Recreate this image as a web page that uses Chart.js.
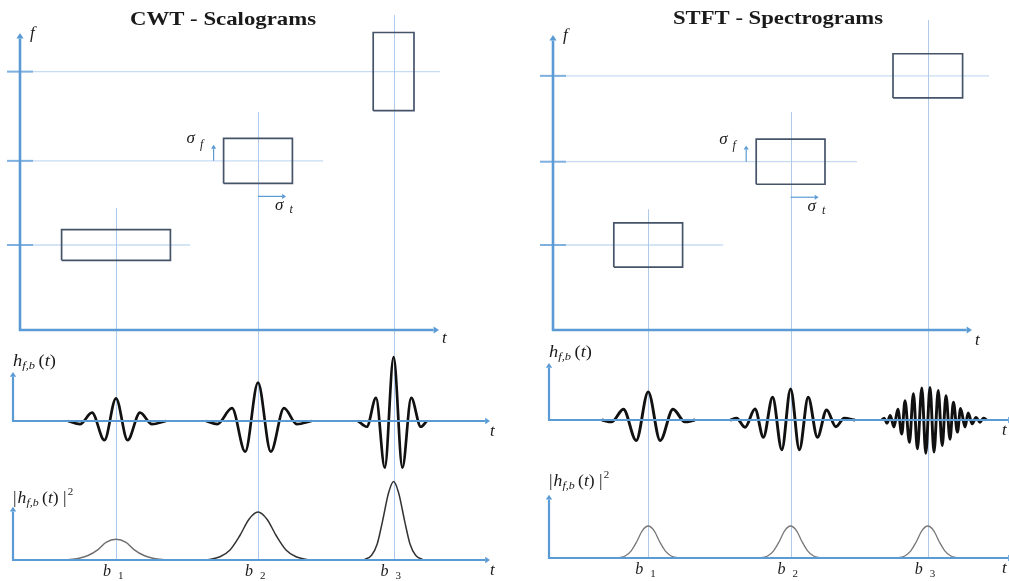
<!DOCTYPE html>
<html>
<head>
<meta charset="utf-8">
<title>CWT vs STFT</title>
<script src="https://cdn.jsdelivr.net/npm/chart.js@4/dist/chart.umd.min.js"></script>
<style>
  html, body { margin: 0; padding: 0; background: #fff; }
  #wrap { position: relative; width: 1009px; height: 581px; overflow: hidden; }
  canvas { position: absolute; top: 0; }
  #cwt { left: 0; }
  #stft { left: 505px; }
</style>
</head>
<body>
<div id="wrap">
  <canvas id="cwt" width="505" height="581"></canvas>
  <canvas id="stft" width="504" height="581"></canvas>
</div>
<script>
// ---- CWT panel (left) : time-frequency atoms ----
const cwtCentres = [2.4, 5.95, 9.34];      // b1, b2, b3 (t units)
const cwtLevels  = [1.0, 1.99, 3.04];      // f of each atom
const cwtSigmaT  = [1.36, 0.86, 0.51];     // half width of box
const cwtSigmaF  = [0.18, 0.265, 0.46];    // half height of box

// wavelets h_{f,b}(t): [t, amplitude] at the turning points
const cwtWave1 = [[1.2, 0], [1.5, -0.05], [1.8, 0.13], [2.11, -0.30], [2.4, 0.355], [2.69, -0.30], [3.0, 0.13], [3.3, -0.05], [3.65, 0]];
const cwtWave2 = [[4.65, 0], [4.93, -0.05], [5.3, 0.2], [5.63, -0.48], [5.95, 0.6], [6.27, -0.48], [6.6, 0.2], [6.92, -0.05], [7.29, 0]];
const cwtWave3 = [[8.45, 0], [8.67, -0.09], [8.9, 0.36], [9.12, -0.73], [9.34, 1.0], [9.56, -0.73], [9.78, 0.36], [10.02, -0.09], [10.17, 0]];

// |h_{f,b}(t)|^2
const cwtBump1 = [[1.15, 0], [1.45, 0.02], [1.7, 0.056], [1.95, 0.13], [2.15, 0.22], [2.4, 0.26], [2.65, 0.22], [2.85, 0.13], [3.1, 0.056], [3.35, 0.02], [3.65, 0]];
const cwtBump2 = [[4.65, 0], [5.0, 0.04], [5.25, 0.125], [5.49, 0.3], [5.725, 0.51], [5.95, 0.6], [6.175, 0.51], [6.41, 0.3], [6.65, 0.125], [6.9, 0.04], [7.25, 0]];
const cwtBump3 = [[8.59, 0], [8.79, 0.06], [8.93, 0.2], [9.065, 0.49], [9.215, 0.84], [9.34, 0.98], [9.465, 0.84], [9.615, 0.49], [9.75, 0.2], [9.89, 0.06], [10.09, 0]];

// ---- STFT panel (right) ----
const stftCentres = [2.38, 5.94, 9.37];
const stftLevels  = [1.0, 1.98, 2.99];
const stftSigmaT  = [0.86, 0.86, 0.87];
const stftSigmaF  = [0.26, 0.265, 0.26];

const stftWave1 = [[1.22, 0], [1.47, -0.03], [1.76, 0.167], [2.08, -0.32], [2.38, 0.44], [2.68, -0.32], [3.0, 0.167], [3.3, -0.03], [3.55, 0]];
const stftWave2 = [[4.43, 0], [4.59, 0.027], [4.8, -0.114], [5.05, 0.172], [5.26, -0.27], [5.49, 0.355], [5.72, -0.464], [5.94, 0.484],
                   [6.16, -0.464], [6.38, 0.355], [6.61, -0.27], [6.84, 0.156], [7.07, -0.105], [7.28, 0.027], [7.55, 0]];
const stftWave3 = [[8.22, 0], [8.28, 0.03], [8.35, -0.05], [8.43, 0.07], [8.525, -0.11], [8.62, 0.17], [8.72, -0.22], [8.8, 0.3],
                   [8.91, -0.35], [9.01, 0.41], [9.11, -0.45], [9.22, 0.5], [9.32, -0.52], [9.425, 0.51], [9.525, -0.5], [9.63, 0.46],
                   [9.73, -0.4], [9.825, 0.38], [9.925, -0.3], [10.01, 0.28], [10.11, -0.19], [10.19, 0.18], [10.3, -0.11], [10.38, 0.11],
                   [10.48, -0.06], [10.575, 0.04], [10.675, -0.035], [10.76, 0.03], [10.84, 0]];

const stftBump1 = [[1.63, 0], [1.805, 0.025], [1.955, 0.09], [2.09, 0.2], [2.23, 0.34], [2.38, 0.4], [2.53, 0.34], [2.67, 0.2], [2.805, 0.09], [2.955, 0.025], [3.13, 0]];
const stftBump2 = [[5.19, 0], [5.365, 0.025], [5.515, 0.09], [5.65, 0.2], [5.79, 0.34], [5.94, 0.4], [6.09, 0.34], [6.23, 0.2], [6.365, 0.09], [6.515, 0.025], [6.69, 0]];
const stftBump3 = [[8.62, 0], [8.795, 0.025], [8.945, 0.09], [9.08, 0.2], [9.22, 0.34], [9.37, 0.4], [9.52, 0.34], [9.66, 0.2], [9.795, 0.09], [9.945, 0.025], [10.12, 0]];

const atomSubscripts = ['1', '2', '3'];

// pixels per unit on each scale
const PX_T = 40, PX_F = 85, PX_W = 64, PX_G = 80, H = 581;

const axisBlue = '#5b9bd5';
const tickBlue = '#7fb0e0';
const guideBlue = '#c6dcf3';
const lineBlue = '#aecbeb';
const boxStroke = '#46546a';
const ink = '#1a1a1a';
const SERIF = '"Liberation Serif", "DejaVu Serif", serif';

const cwtPanel = {
  title: 'CWT - Scalograms', titleX: 223, titleY: 25, titleWidth: 186,
  centres: cwtCentres, levels: cwtLevels, sigmaT: cwtSigmaT, sigmaF: cwtSigmaF,
  waves: [cwtWave1, cwtWave2, cwtWave3], bumps: [cwtBump1, cwtBump2, cwtBump3],
  guideEnds: [4.25, 7.575, 10.5], guideTops: [1.435, 2.565, 3.706],
  width: 505, originPx: 20, tf0: 330, w0: 421, g0: 560,
  fAxisTop: 3.494, tAxisEnd: 10.475, subAxisX: -0.175, subAxisEnd: 11.75, wTop: 0.766, gTop: 0.666,
  waveWidth: 2.7, bumpColors: ['#707070', '#333333', '#333333'], bumpWidth: 1.5,
  hDy: -6, h2Dy: -4, tTfDy: 13
};

const stftPanel = {
  title: 'STFT - Spectrograms', titleX: 273, titleY: 23.5, titleWidth: 210,
  centres: stftCentres, levels: stftLevels, sigmaT: stftSigmaT, sigmaF: stftSigmaF,
  waves: [stftWave1, stftWave2, stftWave3], bumps: [stftBump1, stftBump2, stftBump3],
  guideEnds: [4.25, 7.6, 10.9], guideTops: [1.42, 2.565, 3.647],
  width: 504, originPx: 48, tf0: 330, w0: 420, g0: 558,
  fAxisTop: 3.47, tAxisEnd: 10.475, subAxisX: -0.1, subAxisEnd: 11.5, wTop: 0.89, gTop: 0.79,
  waveWidth: 2.9, bumpColors: ['#777777', '#777777', '#777777'], bumpWidth: 1.3,
  hDy: -6, h2Dy: -9, tTfDy: 15
};

function line(ctx, x0, y0, x1, y1, color, width) {
  ctx.strokeStyle = color;
  ctx.lineWidth = width;
  ctx.beginPath();
  ctx.moveTo(x0, y0);
  ctx.lineTo(x1, y1);
  ctx.stroke();
}

function arrow(ctx, x0, y0, x1, y1, color, width, head) {
  const ang = Math.atan2(y1 - y0, x1 - x0);
  const len = head * 1.5;
  const bx = x1 - Math.cos(ang) * len, by = y1 - Math.sin(ang) * len;
  line(ctx, x0, y0, bx, by, color, width);
  ctx.fillStyle = color;
  ctx.beginPath();
  ctx.moveTo(x1, y1);
  ctx.lineTo(bx - Math.sin(ang) * head, by + Math.cos(ang) * head);
  ctx.lineTo(bx + Math.sin(ang) * head, by - Math.cos(ang) * head);
  ctx.closePath();
  ctx.fill();
}

// draws text made of runs (italic, subscripts...) starting at x, y baseline
function drawRuns(ctx, runs, x, y, scaleX = 1) {
  ctx.save();
  ctx.translate(x, y);
  ctx.scale(scaleX, 1);
  ctx.fillStyle = ink;
  ctx.textBaseline = 'alphabetic';
  ctx.textAlign = 'left';
  let cx = 0;
  for (const r of runs) {
    ctx.font = `${r.italic ? 'italic ' : ''}${r.size}px ${SERIF}`;
    ctx.fillText(r.s, cx, r.dy || 0);
    cx += ctx.measureText(r.s).width + (r.gap || 0);
  }
  ctx.restore();
}

function hRuns(size) {
  return [
    { s: 'h', italic: true, size },
    { s: 'f,b', italic: true, size: size * 0.68, dy: 3, gap: 3 },
    { s: '(', size },
    { s: 't', italic: true, size },
    { s: ')', size }
  ];
}

function makeDiagramPlugin(p) {
  return {
    id: 'diagram',
    beforeDatasetsDraw(chart) {
      const { ctx, scales: { x, f, g } } = chart;
      ctx.save();
      // guide lines at each frequency level, with short ticks on the f axis
      p.levels.forEach((lv, i) => {
        const y = f.getPixelForValue(lv);
        line(ctx, x.getPixelForValue(-0.325), y, x.getPixelForValue(p.guideEnds[i]), y, guideBlue, 1.3);
        line(ctx, x.getPixelForValue(-0.325), y, x.getPixelForValue(0.325), y, tickBlue, 2);
      });
      // vertical lines through b1, b2, b3
      p.centres.forEach((b, i) => {
        const xx = Math.round(x.getPixelForValue(b)) + 0.5;
        line(ctx, xx, f.getPixelForValue(p.guideTops[i]), xx, g.getPixelForValue(0), lineBlue, 1);
      });
      ctx.restore();
    },
    afterDatasetsDraw(chart) {
      const { ctx, scales: { x, f, w, g } } = chart;
      ctx.save();

      // title
      ctx.font = `bold 18px ${SERIF}`;
      const tw = ctx.measureText(p.title).width;
      ctx.save();
      ctx.translate(p.titleX, p.titleY);
      ctx.scale(p.titleWidth / tw, 1);
      ctx.fillStyle = ink;
      ctx.textAlign = 'center';
      ctx.fillText(p.title, 0, 0);
      ctx.restore();

      // time-frequency plane axes
      const x0 = x.getPixelForValue(0), y0 = f.getPixelForValue(0);
      arrow(ctx, x0, y0 + 1, x0, f.getPixelForValue(p.fAxisTop), axisBlue, 2.6, 3.6);
      arrow(ctx, x0 - 1, y0, x.getPixelForValue(p.tAxisEnd), y0, axisBlue, 2.6, 3.6);
      drawRuns(ctx, [{ s: 'f', italic: true, size: 17 }], x0 + 10, f.getPixelForValue(p.fAxisTop) + 5);
      drawRuns(ctx, [{ s: 't', italic: true, size: 17 }], x.getPixelForValue(p.tAxisEnd) + 3, y0 + p.tTfDy);

      // sigma_f and sigma_t markers beside the middle box
      const b2 = p.centres[1];
      const ax = x.getPixelForValue(b2 - p.sigmaT[1] - 0.25);
      const ay = f.getPixelForValue(p.levels[1]);
      arrow(ctx, ax, ay, ax, ay - 16, axisBlue, 1.2, 2.6);
      drawRuns(ctx, [{ s: 'σ', italic: true, size: 17, gap: 5 }, { s: 'f', italic: true, size: 12, dy: 5 }], ax - 27, ay - 18);
      const sx = x.getPixelForValue(b2);
      const sy = f.getPixelForValue(p.levels[1] - p.sigmaF[1]) + 13;
      arrow(ctx, sx, sy, sx + 28, sy, axisBlue, 1.2, 2.6);
      drawRuns(ctx, [{ s: 'σ', italic: true, size: 17, gap: 6 }, { s: 't', italic: true, size: 12, dy: 3 }], sx + 17, sy + 14);

      // wavelet and energy axes
      const ex = x.getPixelForValue(p.subAxisEnd);
      const lx = x.getPixelForValue(p.subAxisX);
      const tx = Math.min(ex, chart.width - 7);
      [[w, p.wTop], [g, p.gTop]].forEach(([sc, top]) => {
        const yy = sc.getPixelForValue(0);
        arrow(ctx, lx, yy + 1, lx, sc.getPixelForValue(top), axisBlue, 2.2, 3.2);
        arrow(ctx, lx - 1, yy, ex, yy, axisBlue, 2.2, 3.2);
      });
      drawRuns(ctx, [{ s: 't', italic: true, size: 17 }], tx, w.getPixelForValue(0) + 15);
      drawRuns(ctx, [{ s: 't', italic: true, size: 17 }], tx, g.getPixelForValue(0) + 15);

      drawRuns(ctx, hRuns(16), lx, w.getPixelForValue(p.wTop) + p.hDy, 1.15);
      drawRuns(ctx, [{ s: '|', size: 16, gap: 1 }].concat(hRuns(16)).concat([{ s: ' |', size: 16, gap: 1 }, { s: '2', size: 10, dy: -8 }]),
        lx, g.getPixelForValue(p.gTop) + p.h2Dy, 1.1);

      // b labels
      p.centres.forEach((b, i) => {
        const bx = x.getPixelForValue(b);
        drawRuns(ctx, [{ s: 'b', italic: true, size: 16, gap: 7 }, { s: atomSubscripts[i], size: 11, dy: 3 }],
          bx - 13, g.getPixelForValue(0) + 16);
      });
      ctx.restore();
    }
  };
}

function buildChart(canvasId, p) {
  const datasets = [];
  p.centres.forEach((b, i) => {
    const t0 = b - p.sigmaT[i], t1 = b + p.sigmaT[i];
    const f0 = p.levels[i] - p.sigmaF[i], f1 = p.levels[i] + p.sigmaF[i];
    datasets.push({
      label: 'atom b' + (i + 1),
      yAxisID: 'f',
      data: [{ x: t0, y: f0 }, { x: t1, y: f0 }, { x: t1, y: f1 }, { x: t0, y: f1 }, { x: t0, y: f0 }],
      borderColor: boxStroke,
      borderWidth: 1.7,
      pointRadius: 0,
      tension: 0,
      fill: false
    });
  });
  p.waves.forEach((wv, i) => {
    datasets.push({
      label: 'h b' + (i + 1),
      yAxisID: 'w',
      data: wv.map(([t, a]) => ({ x: t, y: a })),
      borderColor: '#111',
      borderWidth: p.waveWidth,
      borderJoinStyle: 'round',
      cubicInterpolationMode: 'monotone',
      pointRadius: 0,
      fill: false
    });
  });
  p.bumps.forEach((bp, i) => {
    datasets.push({
      label: '|h|^2 b' + (i + 1),
      yAxisID: 'g',
      data: bp.map(([t, a]) => ({ x: t, y: a })),
      borderColor: p.bumpColors[i],
      borderWidth: p.bumpWidth,
      cubicInterpolationMode: 'monotone',
      pointRadius: 0,
      fill: false
    });
  });

  const ctx = document.getElementById(canvasId).getContext('2d');
  return new Chart(ctx, {
    type: 'line',
    data: { datasets },
    options: {
      responsive: false,
      animation: false,
      events: [],
      layout: { padding: 0 },
      plugins: {
        legend: { display: false },
        tooltip: { enabled: false },
        title: { display: false }
      },
      scales: {
        x: { type: 'linear', display: false, min: -p.originPx / PX_T, max: (p.width - p.originPx) / PX_T },
        f: { type: 'linear', axis: 'y', position: 'left', display: false, min: (p.tf0 - H) / PX_F, max: p.tf0 / PX_F },
        w: { type: 'linear', axis: 'y', position: 'left', display: false, min: (p.w0 - H) / PX_W, max: p.w0 / PX_W },
        g: { type: 'linear', axis: 'y', position: 'left', display: false, min: (p.g0 - H) / PX_G, max: p.g0 / PX_G }
      }
    },
    plugins: [makeDiagramPlugin(p)]
  });
}

buildChart('cwt', cwtPanel);
buildChart('stft', stftPanel);
</script>
</body>
</html>
